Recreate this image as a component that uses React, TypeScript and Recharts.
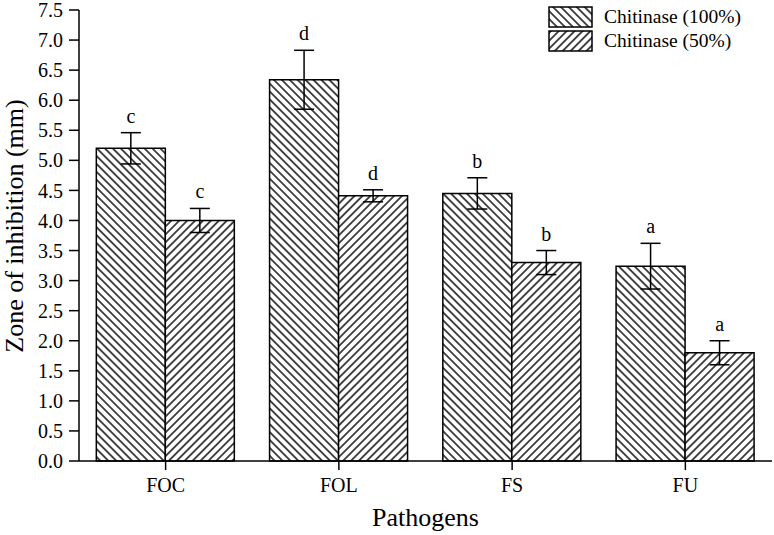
import { BarChart, Bar, XAxis, YAxis, ErrorBar, LabelList, Legend, Label } from 'recharts';

const pathogens = ['FOC', 'FOL', 'FS', 'FU'];
const full = [5.2, 6.34, 4.45, 3.24];
const fullErr = [0.26, 0.49, 0.26, 0.38];
const fullLetters = ['c', 'd', 'b', 'a'];
const half = [4.0, 4.41, 3.3, 1.8];
const halfErr = [0.2, 0.1, 0.2, 0.2];
const halfLetters = ['c', 'd', 'b', 'a'];

const yTicks = [0, 0.5, 1, 1.5, 2, 2.5, 3, 3.5, 4, 4.5, 5, 5.5, 6, 6.5, 7, 7.5];
const yMinorTicks = yTicks.flatMap((t) => (t < 7.5 ? [t, t + 0.25] : [t]));
const xMinorTicks = [0, 1, 2, 3, 4];

const series = [
  { key: 'full', name: 'Chitinase (100%)', fill: 'url(#hatchBack)' },
  { key: 'half', name: 'Chitinase (50%)', fill: 'url(#hatchFwd)' },
];

const data = pathogens.map((name, i) => ({
  name,
  full: full[i],
  fullErr: fullErr[i],
  fullLetter: fullLetters[i],
  half: half[i],
  halfErr: halfErr[i],
  halfLetter: halfLetters[i],
}));

const FONT = '"Liberation Serif", "Times New Roman", serif';

// letters sit just above the top of each error bar
function letterLabel(valKey: string, errKey: string) {
  return (p: any) => {
    const row = data[p.index];
    const val = row[valKey];
    const err = row[errKey];
    const pxPerUnit = p.height / val;
    const top = p.y - err * pxPerUnit;
    return (
      <text x={p.x + p.width / 2} y={top - 10} textAnchor="middle" fontSize={20} fontFamily={FONT} fill="#000">
        {p.value}
      </text>
    );
  };
}

function LegendContent() {
  return (
    <div style={{ fontFamily: FONT, fontSize: 19.5, color: '#000' }}>
      {series.map((s) => (
        <div key={s.key} style={{ display: 'flex', alignItems: 'center', height: 24 }}>
          <svg width={46} height={22} style={{ marginRight: 10 }}>
            <rect x={1} y={1} width={43} height={20} fill={s.fill} stroke="#000" strokeWidth={1.5} />
          </svg>
          <span>{s.name}</span>
        </div>
      ))}
    </div>
  );
}

export default function App() {
  return (
    <div style={{ position: 'absolute', left: 0, top: 0, width: 774, height: 535, background: '#fff' }}>
      <BarChart
        width={774}
        height={535}
        data={data}
        margin={{ top: 10, right: 2, left: 0, bottom: 0 }}
        barGap={0}
        barCategoryGap="10%"
        style={{ fontFamily: FONT }}
      >
        <defs>
          <pattern id="hatchBack" patternUnits="userSpaceOnUse" width={5.6} height={5.6} patternTransform="rotate(-45)">
            <rect width={5.6} height={5.6} fill="#fff" />
            <line x1={2.8} y1={0} x2={2.8} y2={5.6} stroke="#000" strokeWidth={1.4} />
          </pattern>
          <pattern id="hatchFwd" patternUnits="userSpaceOnUse" width={5.6} height={5.6} patternTransform="rotate(45)">
            <rect width={5.6} height={5.6} fill="#fff" />
            <line x1={2.8} y1={0} x2={2.8} y2={5.6} stroke="#000" strokeWidth={1.4} />
          </pattern>
        </defs>
        <XAxis
          xAxisId="minor"
          type="number"
          domain={[0, 4]}
          ticks={xMinorTicks}
          height={0}
          axisLine={false}
          tickSize={5}
          tickLine={{ stroke: '#000', strokeWidth: 1.5 }}
          tickFormatter={() => ''}
        />
        <XAxis
          dataKey="name"
          height={74}
          tickSize={9}
          tickMargin={8}
          axisLine={{ stroke: '#000', strokeWidth: 1.5 }}
          tickLine={{ stroke: '#000', strokeWidth: 1.5 }}
          tick={{ fill: '#000', fontSize: 20, fontFamily: FONT }}
        >
          <Label value="Pathogens" position="insideBottom" offset={9} style={{ fontSize: 26, fontFamily: FONT, fill: '#000' }} />
        </XAxis>
        <YAxis
          yAxisId="minor"
          domain={[0, 7.5]}
          ticks={yMinorTicks}
          width={0}
          axisLine={false}
          tickSize={6}
          tickLine={{ stroke: '#000', strokeWidth: 1.5 }}
          tickFormatter={() => ''}
        />
        <YAxis
          domain={[0, 7.5]}
          ticks={yTicks}
          width={79}
          tickSize={10}
          tickMargin={6}
          interval={0}
          tickFormatter={(v: number) => v.toFixed(1)}
          axisLine={{ stroke: '#000', strokeWidth: 1.5 }}
          tickLine={{ stroke: '#000', strokeWidth: 1.5 }}
          tick={{ fill: '#000', fontSize: 20, fontFamily: FONT }}
        >
          <Label
            content={() => (
              <text x={23} y={226} transform="rotate(-90 23 226)" textAnchor="middle" fontSize={26} fontFamily={FONT} fill="#000">
                Zone of inhibition (mm)
              </text>
            )}
          />
        </YAxis>
        <Legend
          layout="vertical"
          align="center"
          verticalAlign="middle"
          content={<LegendContent />}
          wrapperStyle={{ top: 5, left: 548, width: 220 }}
        />
        <Bar dataKey="full" name={series[0].name} fill={series[0].fill} stroke="#000" strokeWidth={1.5} isAnimationActive={false}>
          <ErrorBar dataKey="fullErr" width={10} stroke="#000" strokeWidth={1.5} />
          <LabelList dataKey="fullLetter" content={letterLabel('full', 'fullErr')} />
        </Bar>
        <Bar dataKey="half" name={series[1].name} fill={series[1].fill} stroke="#000" strokeWidth={1.5} isAnimationActive={false}>
          <ErrorBar dataKey="halfErr" width={10} stroke="#000" strokeWidth={1.5} />
          <LabelList dataKey="halfLetter" content={letterLabel('half', 'halfErr')} />
        </Bar>
      </BarChart>
    </div>
  );
}
